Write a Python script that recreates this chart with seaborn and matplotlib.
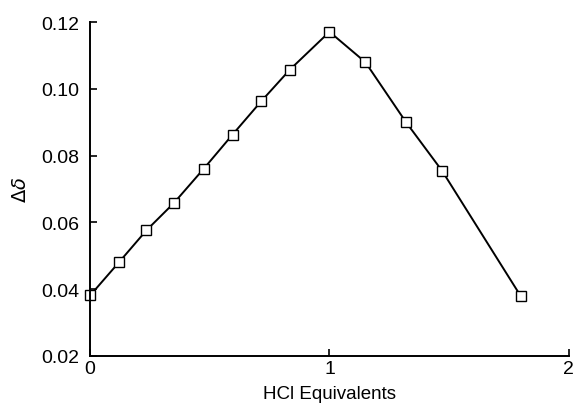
import matplotlib
matplotlib.use("Agg")
import matplotlib.pyplot as plt
import pandas as pd
import seaborn as sns

# HCl titration: chemical shift change vs equivalents
hcl_equiv = [0.0, 0.12, 0.235, 0.35, 0.475, 0.595, 0.715, 0.835, 1.0, 1.15, 1.32, 1.47, 1.8]
delta_shift = [0.0381, 0.0480, 0.0576, 0.0658, 0.0761, 0.0863, 0.0963, 0.1058,
               0.1171, 0.1080, 0.0900, 0.0755, 0.0378]

df = pd.DataFrame({"equiv": hcl_equiv, "dd": delta_shift})

sns.set_theme(style="ticks")
plt.rcParams['font.family'] = ['Liberation Sans', 'DejaVu Sans']

fig = plt.figure(figsize=(5.74, 4.06), dpi=100)
ax = fig.add_axes([0.157, 0.121, 0.834, 0.822])

sns.lineplot(data=df, x="equiv", y="dd", ax=ax, color="black", linewidth=1.4,
             marker="s", markersize=7, markerfacecolor="white",
             markeredgecolor="black", markeredgewidth=1.0, clip_on=False)

ax.set_xlim(0, 2)
ax.set_ylim(0.02, 0.12)
ax.set_xticks([0, 1, 2])
ax.set_xticklabels(["0", "1", "2"])
ax.set_yticks([0.02, 0.04, 0.06, 0.08, 0.10, 0.12])
ax.set_yticklabels(["0.02", "0.04", "0.06", "0.08", "0.10", "0.12"])
ax.tick_params(direction="in", length=5, width=1.2, labelsize=14, colors="black")
ax.tick_params(axis="y", pad=8)
ax.tick_params(axis="x", pad=3)

for side in ["top", "right"]:
    ax.spines[side].set_visible(False)
for side in ["left", "bottom"]:
    ax.spines[side].set_linewidth(1.4)
    ax.spines[side].set_color("black")

ax.set_xlabel("HCl Equivalents", fontsize=13.5, color="black", labelpad=6)
ax.set_ylabel(r"$\Delta\delta$", fontsize=14, color="black", labelpad=8)

plt.savefig("out.png", dpi=100)
plt.close()
